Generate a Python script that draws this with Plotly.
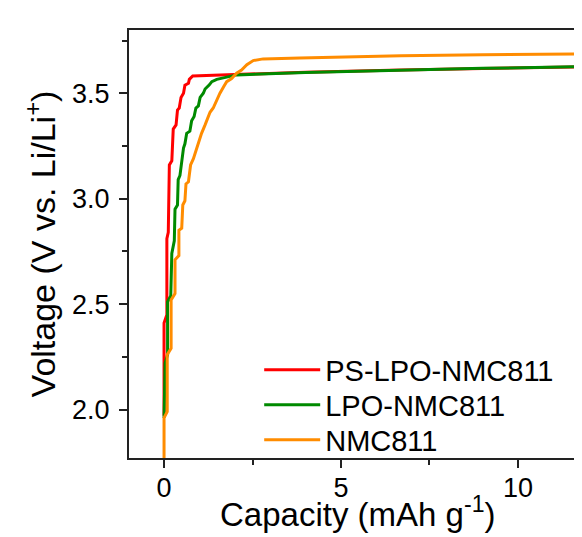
import plotly.graph_objects as go

# PS-LPO-NMC811
ps_cap = [0.0, 0.0, 0.08, 0.08, 0.12, 0.15, 0.22, 0.26, 0.34, 0.38, 0.43, 0.48, 0.55,
          0.59, 0.69, 0.715, 0.81, 1.5, 2.5, 4.0, 6.7, 9.0, 11.9]
ps_volt = [1.97, 2.41, 2.45, 2.81, 2.84, 3.16, 3.18, 3.33, 3.35, 3.42, 3.43, 3.48, 3.50,
           3.538, 3.547, 3.566, 3.582, 3.586, 3.592, 3.600, 3.610, 3.618, 3.626]

# LPO-NMC811
lpo_cap = [0.0, 0.03, 0.1, 0.1, 0.19, 0.22, 0.29, 0.31, 0.38, 0.40, 0.45, 0.50, 0.55,
           0.59, 0.64, 0.73, 0.78, 0.85, 0.90, 0.97, 1.02, 1.11, 1.16, 1.28, 1.35, 1.49,
           1.7, 2.05, 4.0, 6.7, 9.0, 11.9]
lpo_volt = [1.96, 2.22, 2.26, 2.51, 2.54, 2.74, 2.80, 2.95, 2.97, 3.09, 3.11, 3.18, 3.24,
            3.26, 3.31, 3.32, 3.37, 3.39, 3.43, 3.44, 3.48, 3.50, 3.52, 3.54, 3.555, 3.566,
            3.575, 3.587, 3.598, 3.610, 3.618, 3.626]

# NMC811
nmc_cap = [0.0, 0.0, 0.09, 0.09, 0.2, 0.2, 0.31, 0.31, 0.42, 0.42, 0.50, 0.53, 0.59,
           0.62, 0.69, 0.75, 0.83, 0.90, 0.97, 1.06, 1.16, 1.22, 1.30, 1.39, 1.49, 1.58,
           1.68, 1.77, 1.91, 2.05, 2.19, 2.34, 2.52, 2.8, 3.84, 6.7, 9.0, 11.9]
nmc_volt = [1.77, 1.96, 1.99, 2.26, 2.29, 2.52, 2.55, 2.71, 2.73, 2.85, 2.86, 2.97, 2.99,
            3.07, 3.08, 3.16, 3.19, 3.23, 3.27, 3.31, 3.35, 3.38, 3.41, 3.43, 3.47, 3.50,
            3.53, 3.555, 3.57, 3.595, 3.61, 3.635, 3.655, 3.663, 3.667, 3.678, 3.683, 3.687]

font = 'Arial, Liberation Sans, sans-serif'
axis_col = '#222'

fig = go.Figure()

fig.add_trace(go.Scatter(x=ps_cap, y=ps_volt, mode='lines', name='PS-LPO-NMC811',
                         line=dict(color='#ff0000', width=3), legend='legend'))
fig.add_trace(go.Scatter(x=lpo_cap, y=lpo_volt, mode='lines', name='LPO-NMC811',
                         line=dict(color='#008a00', width=3), legend='legend2'))
fig.add_trace(go.Scatter(x=nmc_cap, y=nmc_volt, mode='lines', name='NMC811',
                         line=dict(color='#ff8c00', width=3), legend='legend3'))

# one legend per entry so the rows can sit as close as in the original
leg = dict(x=0.2874, xanchor='left', yanchor='middle', bgcolor='rgba(0,0,0,0)',
           font=dict(size=29), itemwidth=56)

# the page body adds an 8px offset, so margins are shifted by that amount
fig.update_layout(
    width=582, height=537,
    margin=dict(l=121, r=8, t=22, b=87),
    paper_bgcolor='white', plot_bgcolor='white',
    font=dict(family=font, size=27, color='black'),
    showlegend=True,
    legend=dict(leg, y=0.2056),
    legend2=dict(leg, y=0.1238),
    legend3=dict(leg, y=0.042),
)

# x title as an annotation, the axis title sat too low
fig.add_annotation(text='Capacity (mAh g<sup>-1</sup>)', xref='paper', yref='paper',
                   x=0.5055, y=-0.0724, xanchor='center', yanchor='top',
                   showarrow=False, font=dict(size=33))

fig.update_xaxes(
    range=[-0.99, 11.81], showgrid=False, zeroline=False, automargin=False,
    showline=True, linecolor=axis_col, linewidth=2, mirror=True,
    ticks='outside', ticklen=8, tickwidth=2, tickcolor=axis_col,
    tick0=0, dtick=5, ticklabelstandoff=-3,
    minor=dict(ticks='outside', ticklen=5, tickwidth=2, tickcolor=axis_col, dtick=2.5, tick0=0),
)
fig.update_yaxes(
    range=[1.77, 3.80], showgrid=False, zeroline=False, automargin=False,
    showline=True, linecolor=axis_col, linewidth=2, mirror=False,
    ticks='outside', ticklen=8, tickwidth=2, tickcolor=axis_col,
    tick0=2.0, dtick=0.5, tickformat='.1f', ticklabelstandoff=4,
    minor=dict(ticks='outside', ticklen=5, tickwidth=2, tickcolor=axis_col, dtick=0.25, tick0=2.0),
    title=dict(text='Voltage (V vs. Li/Li<sup>+</sup>)', font=dict(size=34), standoff=6),
)

fig.write_html("out.html")
